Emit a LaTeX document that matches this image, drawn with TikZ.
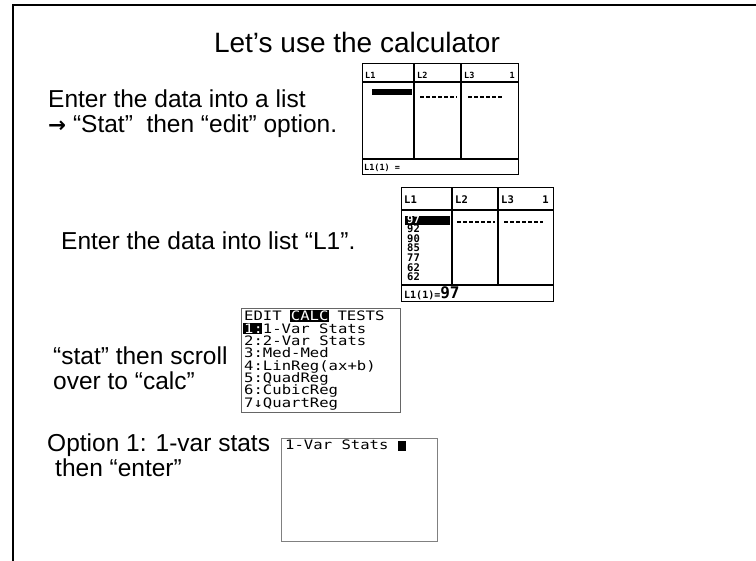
\documentclass[tikz,border=0pt]{standalone}
\usepackage{fontspec}
\setmainfont{Liberation Sans}
\newfontfamily\calcfont[FakeStretch=1.2]{DejaVu Sans Mono}
\newfontfamily\listfont{DejaVu Sans Mono}
\newfontfamily\arrowfont{DejaVu Sans}
\tikzset{
  slidetext/.style={anchor=base west, inner sep=0pt, font=\fontsize{24.5}{30}\selectfont},
  screen/.style={draw=black, line width=1pt, fill=white},
  calctext/.style={anchor=base west, inner sep=0pt, font=\calcfont\fontsize{13}{14}\selectfont},
  listtext/.style={anchor=base west, inner sep=0pt, font=\listfont\bfseries\fontsize{10.5}{11}\selectfont},
  tinytext/.style={anchor=base west, inner sep=0pt, font=\listfont\bfseries\fontsize{8.5}{9}\selectfont},
  grid/.style={line width=1.5pt},
  blanks/.style={line width=1.5pt, dash pattern=on 4pt off 2pt},
}
\begin{document}
\begin{tikzpicture}[x=1pt,y=-1pt]
  \useasboundingbox (0,0) rectangle (756,561);
  % Slide frame
  \draw[line width=2pt] (13,561) -- (13,5) -- (756,5);
  % Title
  \node[anchor=base, inner sep=0pt, font=\fontsize{28}{34}\selectfont] (title) at (357,53) {Let’s use the calculator};
  % Instructions
  \node[slidetext] (enter1) at (48,108) {Enter the data into a list};
  \node[slidetext] (enter2) at (48,133) {{\arrowfont\bfseries\resizebox{18pt}{!}{→}}\ “Stat”\ \ then “edit” option.};
  \node[slidetext] (enterL) at (61,250) {Enter the data into list “L1”.};
  \node[slidetext] (stat1) at (53,365) {“stat” then scroll};
  \node[slidetext] (stat2) at (53,390) {over to “calc”};
  \node[slidetext] (opt1) at (47,452) {Option 1: 1-var stats};
  \node[slidetext] (opt2) at (55,477) {then “enter”};
  % Screen 1: empty list editor
  \draw[screen] (362,64) rectangle (518,175);
  \draw[grid] (362,82) -- (518,82);
  \draw[grid] (362,159) -- (518,159);
  \draw[grid] (414,64) -- (414,159);
  \draw[grid] (461,64) -- (461,159);
  \node[tinytext] (sa) at (365,79) {L1};
  \node[tinytext] (sb) at (417,79) {L2};
  \node[tinytext] (sc) at (464,79) {L3};
  \node[tinytext, anchor=base east] (sd) at (515,79) {1};
  \fill (372,89) rectangle (412,95);
  \draw[blanks] (420,97) -- (457,97);
  \draw[blanks] (468,97) -- (503,97);
  \node[tinytext] (se) at (364,171) {L1(1) =};
  % Screen 2: data in L1
  \draw[screen] (401,188) rectangle (553,302);
  \draw[grid] (401,210) -- (553,210);
  \draw[grid] (401,285) -- (553,285);
  \draw[grid] (452,188) -- (452,285);
  \draw[grid] (498,188) -- (498,285);
  \node[listtext] (la) at (404,204) {L1};
  \node[listtext] (lb) at (455,204) {L2};
  \node[listtext] (lc) at (501,204) {L3};
  \node[listtext, anchor=base east] (ld) at (549,204) {1};
  \fill (405,216) rectangle (450,225);
  \node[listtext, text=white] (v1) at (407,223.2) {97};
  \foreach \v [count=\i from 2] in {92,90,85,77,62,62}
    \node[listtext] (v\i) at (407,{213.6+9.6*\i}) {\v};
  \draw[blanks] (457,222) -- (495,222);
  \draw[blanks] (504,222) -- (543,222);
  \node[listtext, font=\listfont\bfseries\fontsize{10}{11}\selectfont] (lbot) at (404,299) {L1(1)=\fontsize{16}{17}\selectfont 97};
  % Screen 3: calc menu
  \draw[screen, draw=black!60, line width=0.8pt] (241,308) rectangle (400,412);
  \node[calctext] (edit) at (244,321) {EDIT};
  \fill (290,310) rectangle (329,322.5);
  \node[calctext, text=white] (calc) at (290.7,321) {CALC};
  \node[calctext] (tests) at (337.3,321) {TESTS};
  \fill (243,323.5) rectangle (262,334.5);
  \node[calctext, text=white] (r1a) at (244,333.3) {1:};
  \node[calctext] (r1b) at (262.7,333.3) {1-Var Stats};
  \foreach \row [count=\i from 2] in {2:2-Var Stats,3:Med-Med,4:LinReg(ax+b),5:QuadReg,6:CubicReg,7↓QuartReg}
    \node[calctext] (r\i) at (244,{321+12.3*\i}) {\row};
  % Screen 4: 1-Var Stats
  \draw[screen, draw=black!50, line width=0.8pt] (281,438) rectangle (437,541);
  \node[calctext] (vartxt) at (285,450) {1-Var Stats};
  \fill (398,441) rectangle (406,451);
\end{tikzpicture}
\end{document}
